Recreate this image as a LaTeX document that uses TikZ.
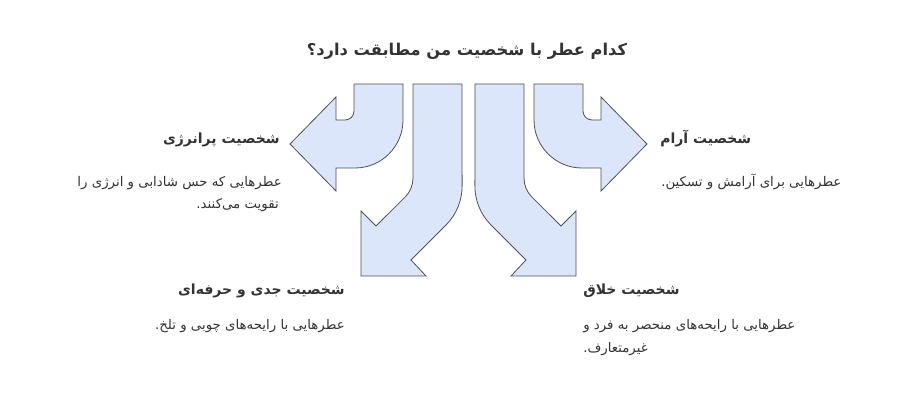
\documentclass[tikz,border=0pt]{standalone}
\usepackage{fontspec}
\TeXXeTstate=1
\newfontfamily\fa[Script=Arabic]{DejaVu Sans}
\definecolor{fillblue}{HTML}{DCE6FA}
\definecolor{edge}{HTML}{505050}
\definecolor{ink}{HTML}{333333}
\tikzstyle{arrowshape} = [draw=edge, fill=fillblue, line width=0.6pt, line join=miter]
\tikzstyle{maintitle} = [font=\fa\bfseries\fontsize{12.2}{14}\selectfont, text=ink, inner sep=0pt]
\tikzstyle{subtitle} = [font=\fa\bfseries\fontsize{10.5}{12}\selectfont, text=ink, inner sep=0pt]
\tikzstyle{bodytext} = [font=\fa\fontsize{10}{12}\selectfont, text=ink, inner sep=0pt]

\begin{document}
\begin{tikzpicture}[x=0.75pt, y=-0.75pt]

        \useasboundingbox (0,0) rectangle (901,409);

        %% fleches

        \draw[arrowshape] (354,84) -- (354,111) arc[start angle=0, end angle=90, radius=9] -- (336,120) -- (336,97) -- (290,144) -- (336,191) -- (336,168) -- (355,168) arc[start angle=90, end angle=0, radius=48] -- (403,84) -- cycle;
        \draw[arrowshape] (413,84) -- (413,178) arc[start angle=0, end angle=45, radius=27] -- (376,226) -- (361,211) -- (361,276) -- (426,276) -- (411,260) -- (446,225) arc[start angle=45, end angle=0, radius=55] -- (462,84) -- cycle;
        \draw[arrowshape] (524,84) -- (524,178) arc[start angle=180, end angle=135, radius=27] -- (561,226) -- (576,211) -- (576,276) -- (511,276) -- (526,260) -- (491,225) arc[start angle=135, end angle=180, radius=55] -- (475,84) -- cycle;
        \draw[arrowshape] (583,84) -- (583,111) arc[start angle=180, end angle=90, radius=9] -- (601,120) -- (601,97) -- (647,144) -- (601,191) -- (601,168) -- (582,168) arc[start angle=90, end angle=180, radius=48] -- (534,84) -- cycle;

        %% titre

        \node (T) [maintitle, anchor=base] at (467,56) {\beginR کدام عطر با شخصیت من مطابقت دارد؟\endR};

        %% textes

        \node (P1) [subtitle, anchor=base east] at (280,144) {\beginR شخصیت پرانرژی\endR};
        \node (P2) [bodytext, anchor=base east] at (282,187) {\beginR عطرهایی که حس شادابی و انرژی را\endR};
        \node (P3) [bodytext, anchor=base east] at (279,209) {\beginR تقویت می‌کنند.\endR};

        \node (R1) [subtitle, anchor=base west] at (660,144) {\beginR شخصیت آرام\endR};
        \node (R2) [bodytext, anchor=base west] at (661,187) {\beginR عطرهایی برای آرامش و تسکین.\endR};

        \node (J1) [subtitle, anchor=base east] at (345,295) {\beginR شخصیت جدی و حرفه‌ای\endR};
        \node (J2) [bodytext, anchor=base east] at (345,330) {\beginR عطرهایی با رایحه‌های چوبی و تلخ.\endR};

        \node (K1) [subtitle, anchor=base west] at (583,295) {\beginR شخصیت خلاق\endR};
        \node (K2) [bodytext, anchor=base west] at (583,330) {\beginR عطرهایی با رایحه‌های منحصر به فرد و\endR};
        \node (K3) [bodytext, anchor=base west] at (583,353) {\beginR غیرمتعارف.\endR};

    \end{tikzpicture}
\end{document}
